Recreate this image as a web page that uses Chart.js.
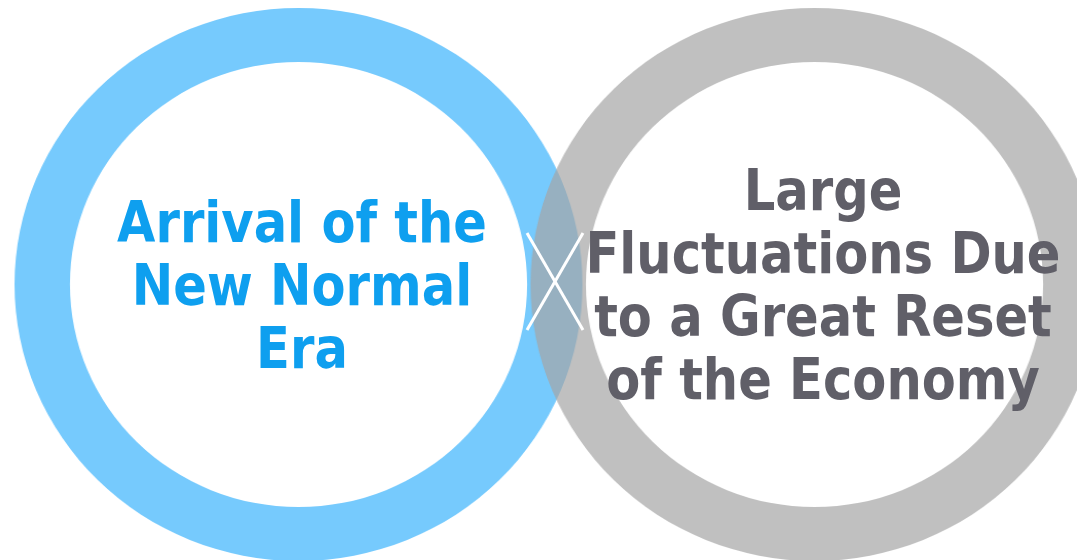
<!DOCTYPE html>
<html lang="en">
<head>
    <meta charset="UTF-8">
    <title>New Normal x Great Reset</title>
    <script src="https://cdn.jsdelivr.net/npm/chart.js"></script>
    <style>
        html, body { margin: 0; padding: 0; background: #fff; }
        body { width: 1077px; height: 560px; overflow: hidden; position: relative; }
        .ring { position: absolute; top: 8px; width: 553px; height: 553px; transform: scaleX(1.027); }
        #blueWrap { left: 21.5px; }
        #grayWrap { left: 537.5px; }
        .cross { position: absolute; left: 499px; top: 279.5px; width: 112px; height: 3px; background: #fff; }
        .label {
            position: absolute; width: 800px; text-align: center;
            font-family: "DejaVu Sans", sans-serif; font-weight: bold;
            font-size: 57px; line-height: 63px; white-space: nowrap;
            transform: scaleX(0.87);
        }
        #blueText { left: -98px; top: 191px; color: #0E9FEF; }
        #grayText { left: 423px; top: 159px; color: #605F68; }
    </style>
</head>
<body>

<div id="blueWrap" class="ring"><canvas id="chart_blue" width="553" height="553"></canvas></div>
<div id="grayWrap" class="ring"><canvas id="chart_gray" width="553" height="553"></canvas></div>

<!-- white X inside the overlap -->
<div class="cross" style="transform: rotate(60deg);"></div>
<div class="cross" style="transform: rotate(-60deg);"></div>

<div id="blueText" class="label"></div>
<div id="grayText" class="label"></div>

<script>
    // Diagram data
    const ringLabels = ['Arrival of the New Normal Era', 'Large Fluctuations Due to a Great Reset of the Economy'];
    const ringValues = [100, 100];   // each ring is one full circle
    const blueLines = ['Arrival of the', 'New Normal', 'Era'];
    const grayLines = ['Large', 'Fluctuations Due', 'to a Great Reset', 'of the Economy'];

    // Ring setup function
    function initRing(ctx, label, value, color) {
        return new Chart(ctx, {
            type: 'doughnut',
            data: { labels: [label], datasets: [{ data: [value], backgroundColor: color, borderWidth: 0 }] },
            options: {
                responsive: false,
                animation: false,
                cutout: '80.5%',
                events: [],
                layout: { padding: 0 },
                plugins: { legend: { display: false }, tooltip: { enabled: false } }
            }
        });
    }

    const ringBlue = initRing(document.getElementById('chart_blue').getContext('2d'), ringLabels[0], ringValues[0], '#76CAFD');
    const ringGray = initRing(document.getElementById('chart_gray').getContext('2d'), ringLabels[1], ringValues[1], 'rgba(165,165,165,0.7)');

    // Labels
    document.getElementById('blueText').innerHTML = blueLines.map(t => `<div>${t}</div>`).join('');
    document.getElementById('grayText').innerHTML = grayLines.map(t => `<div>${t}</div>`).join('');
</script>
</body>
</html>
